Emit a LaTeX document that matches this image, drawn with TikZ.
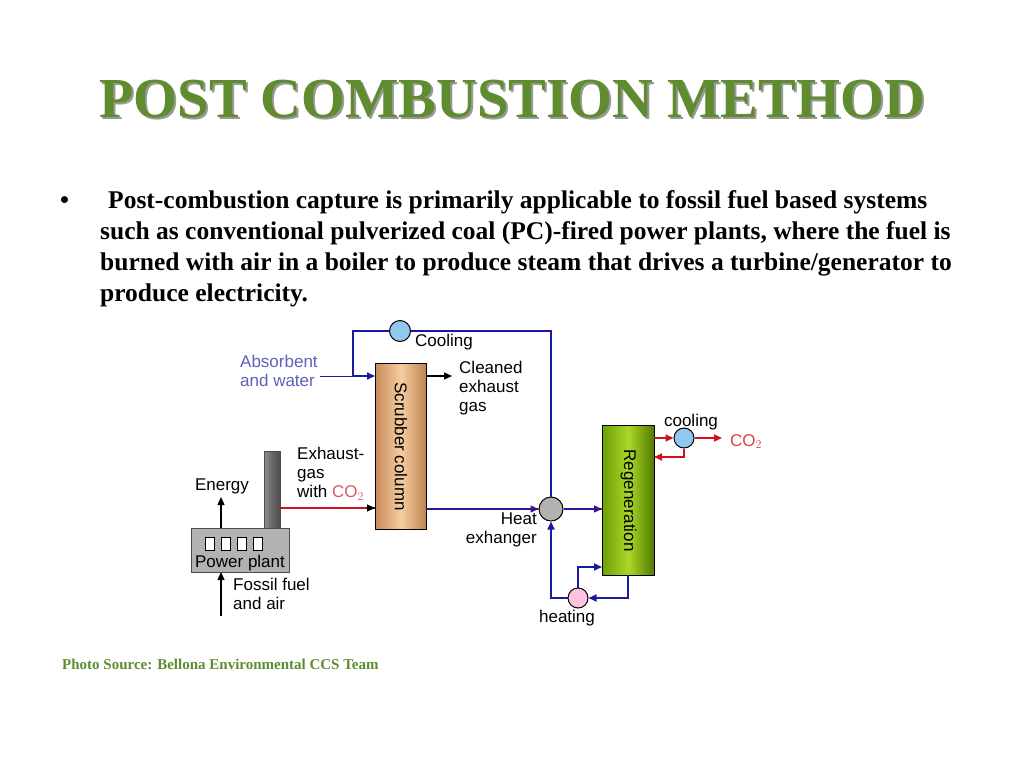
\documentclass[tikz,border=0pt]{standalone}
\usepackage{fontspec}
\setmainfont{Liberation Serif}
\newfontfamily\diag{Liberation Sans}
\usetikzlibrary{arrows.meta}
\definecolor{tgreen}{HTML}{5E8C2E}
\definecolor{lblue}{HTML}{1A1AA0}
\definecolor{rred}{HTML}{D01020}
\definecolor{skyc}{HTML}{90C8F0}
\tikzset{
 lab/.style={font=\diag\fontsize{17}{19}\selectfont,inner sep=0pt,align=left},
 bl/.style={draw=lblue,line width=1.6pt},
 rd/.style={draw=rred,line width=1.6pt},
 arr/.style={-{Triangle[length=8pt,width=7pt]}},
 circ/.style={circle,draw=black,line width=1pt,minimum size=22pt,inner sep=0pt},
 body/.style={font=\bfseries\fontsize{25.5}{30}\selectfont,anchor=base west,inner sep=0pt},
}
\begin{document}
\begin{tikzpicture}[x=1pt,y=-1pt]
\useasboundingbox (0,0) rectangle (1024,768);
% title
\node[font=\bfseries\fontsize{56.5}{64}\selectfont,text=black!40,anchor=base] at (514,119) {POST COMBUSTION METHOD};
\node[font=\bfseries\fontsize{56.5}{64}\selectfont,text=tgreen,anchor=base] (title) at (512,117) {POST COMBUSTION METHOD};
% bullet
\node[body] (bul) at (60,208) {\textbullet};
\node[body] (l1) at (108,208) {Post-combustion capture is primarily applicable to fossil fuel based systems};
\node[body] (l2) at (100,239) {such as conventional pulverized coal (PC)-fired power plants, where the fuel is};
\node[body] (l3) at (100,270) {burned with air in a boiler to produce steam that drives a turbine/generator to};
\node[body] (l4) at (100,301) {produce electricity.};
\node[font=\bfseries\fontsize{15}{17}\selectfont,text=tgreen,anchor=base west,inner sep=0pt] (src) at (62,669) {Photo Source: Bellona Environmental CCS Team};
% columns
\node[draw=black,line width=1pt,minimum width=51pt,minimum height=166pt,inner sep=0pt,anchor=north west,left color={rgb,255:red,200;green,140;blue,90},right color={rgb,255:red,190;green,130;blue,80},middle color={rgb,255:red,245;green,205;blue,160}] (scr) at (375,363) {};
\node[lab,rotate=-90] (scrt) at (scr.center) {Scrubber column};
\node[draw=black,line width=1pt,minimum width=52pt,minimum height=150pt,inner sep=0pt,anchor=north west,left color={rgb,255:red,110;green,160;blue,10},right color={rgb,255:red,80;green,120;blue,0},middle color={rgb,255:red,170;green,215;blue,40}] (reg) at (602,425) {};
\node[lab,rotate=-90] (regt) at (reg.center) {Regeneration};
% plant
\node[draw=black!70,minimum width=16pt,minimum height=78pt,inner sep=0pt,anchor=north west,left color=black!45,right color=black!70,middle color=black!60] (chim) at (264,451) {};
\node[draw=black!70,fill=black!30,minimum width=98pt,minimum height=44pt,inner sep=0pt,anchor=north west] (pp) at (191,528) {};
\foreach \i in {0,1,2,3}{\node[draw=black,fill=white,line width=0.8pt,minimum width=9pt,minimum height=13pt,inner sep=0pt] (w\i) at (210+16*\i,544) {};}
\node[lab,anchor=base] (ppt) at (240,567) {Power plant};
\coordinate (en) at (221,497);
\coordinate (ff) at (221,616);
\draw[arr,line width=1.4pt] (221,528) -- (en);
\draw[arr,line width=1.4pt] (ff) -- (221,572);
\node[lab,anchor=base] (ent) at (222,490) {Energy};
\node[lab,anchor=north west] (fft) at (233,578) {Fossil fuel\\and air};
% circles
\node[circ,fill=skyc,minimum size=21pt] (c1) at (400,331) {};
\node[circ,fill=black!30,minimum size=24pt] (hx) at (551,509) {};
\node[circ,fill=pink!80!magenta!60,minimum size=20pt] (ht) at (578,598) {};
\node[circ,fill=skyc,minimum size=20pt] (c2) at (684,438) {};
% top loop
\draw[bl,arr] (c1.west) -- (353,331) -- (353,376) -- (scr.west |- 0,376);
\draw[bl] (c1.east) -- (551,331) -- (hx.north);
\coordinate (abs) at (320,376);
\draw[draw=lblue,line width=1pt] (abs) -- (353,376);
\node[lab,text=lblue!70,anchor=north west] (abst) at (240,355) {Absorbent\\and water};
\node[lab,anchor=base west] (coolt) at (415,346) {Cooling};
% cleaned
\coordinate (cl) at (452,376);
\draw[arr,line width=1.4pt] (426,376) -- (cl);
\node[lab,anchor=north west] (clt) at (459,361) {Cleaned\\exhaust\\gas};
% exhaust
\draw[rd] (chim.east |- 0,508) -- (375,508);
\draw[-{Triangle[length=8pt,width=7pt]},black,line width=0.1pt] (366,508) -- (375,508);
\node[lab,anchor=north west] (ext) at (297,447) {Exhaust-\\gas\\with {\color{rred!70}CO$_2$}};
% scrubber to hx
\draw[draw=rred,line width=2.2pt] (426,509) -- (hx.west);
\draw[draw=lblue!70!violet,line width=1.2pt,arr] (426,509) -- (hx.west);
\draw[draw=rred,line width=2.2pt] (hx.east) -- (602,509);
\draw[draw=lblue!70!violet,line width=1.2pt,arr] (hx.east) -- (602,509);
\node[lab,align=right,anchor=north east] (hxt) at (537,513) {Heat\\exhanger};
% bottom loop
\draw[bl,arr] (ht.west) -- (551,598) -- (hx.south);
\draw[bl,arr] (ht.north) -- (578,567) -- (602,567);
\draw[bl,arr] (628,575) -- (628,598) -- (ht.east);
\node[lab,anchor=base] (htt) at (567,622) {heating};
% co2 cooling
\draw[rd,arr] (654,438) -- (c2.west);
\coordinate (co2e) at (722,438);
\draw[rd,arr] (c2.east) -- (co2e);
\draw[rd,arr] (c2.south) -- (684,457) -- (654,457);
\node[lab,anchor=base] (c2t) at (691,426) {cooling};
\node[lab,text=rred!80,anchor=base west] (co2t) at (730,446) {CO$_2$};
\end{tikzpicture}
\end{document}
